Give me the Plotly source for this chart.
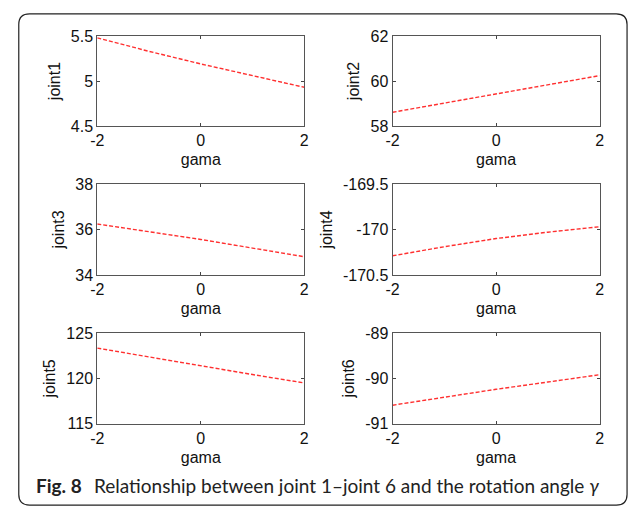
import plotly.graph_objects as go

gama = [-2, -1, 0, 1, 2]
joint1 = [5.48, 5.33, 5.19, 5.06, 4.93]
joint2 = [58.61, 59.01, 59.41, 59.82, 60.24]
joint3 = [36.24, 35.90, 35.56, 35.18, 34.80]
joint4 = [-170.29, -170.19, -170.10, -170.03, -169.97]
joint5 = [123.33, 122.35, 121.38, 120.42, 119.50]
joint6 = [-90.59, -90.41, -90.24, -90.08, -89.92]

series = [joint1, joint2, joint3, joint4, joint5, joint6]
names = ["joint1", "joint2", "joint3", "joint4", "joint5", "joint6"]
yranges = [[4.5, 5.5], [58, 62], [34, 38], [-170.5, -169.5], [115, 125], [-91, -89]]
yticks = [[4.5, 5, 5.5], [58, 60, 62], [34, 36, 38], [-170.5, -170, -169.5], [115, 120, 125], [-91, -90, -89]]
ytick_text = [["4.5", "5", "5.5"], ["58", "60", "62"], ["34", "36", "38"],
              ["-170.5", "-170", "-169.5"], ["115", "120", "125"], ["-91", "-90", "-89"]]
xticks = [-2, 0, 2]
xtitle = "gama"

W, H = 635, 516
col_px = [(92, 303), (393, 604)]
row_px = [(29, 122), (182, 276), (336, 430)]

fig = go.Figure()
tickfont = dict(family="Liberation Sans, Arial", size=16, color="#111")
titlefont = dict(family="Liberation Sans, Arial", size=16, color="#111")

for i in range(6):
    r, c = divmod(i, 2)
    ax = "" if i == 0 else str(i + 1)
    fig.add_trace(go.Scatter(x=gama, y=series[i], mode="lines",
                             line=dict(color="#ff3030", width=1.4, dash="4px,2px"),
                             xaxis="x" + ax, yaxis="y" + ax, showlegend=False))
    x0, x1 = col_px[c]
    t, b = row_px[r]
    fig.layout["xaxis" + ax] = dict(
        domain=[x0 / W, x1 / W], anchor="y" + ax, range=[-2, 2],
        tickvals=xticks, ticktext=[str(v) for v in xticks],
        ticks="inside", ticklen=3, tickcolor="#444", mirror="ticks",
        showline=True, linecolor="#555", linewidth=1, showgrid=False, zeroline=False,
        tickfont=tickfont, title=dict(text=xtitle, font=titlefont, standoff=5),
    )
    fig.layout["yaxis" + ax] = dict(
        domain=[1 - b / H, 1 - t / H], anchor="x" + ax, range=yranges[i],
        tickvals=yticks[i], ticktext=ytick_text[i],
        ticks="inside", ticklen=3, tickcolor="#444", mirror="ticks",
        showline=True, linecolor="#555", linewidth=1, showgrid=False, zeroline=False,
        tickfont=tickfont, title=dict(text=names[i], font=titlefont, standoff=6),
    )

# rounded frame
fx0, fx1, fy0, fy1 = 12 / W, 632 / W, 1 - 514 / H, 1 - 6 / H
rx, ry = 11 / W, 11 / H
path = (f"M {fx0+rx},{fy1} L {fx1-rx},{fy1} Q {fx1},{fy1} {fx1},{fy1-ry} "
        f"L {fx1},{fy0+ry} Q {fx1},{fy0} {fx1-rx},{fy0} L {fx0+rx},{fy0} "
        f"Q {fx0},{fy0} {fx0},{fy0+ry} L {fx0},{fy1-ry} Q {fx0},{fy1} {fx0+rx},{fy1} Z")
fig.add_shape(type="path", path=path, xref="paper", yref="paper",
              line=dict(color="#222", width=1.2))

capfont = dict(family="Lato, Open Sans", size=19, color="#222")
fig.add_annotation(text="<b>Fig. 8</b>", x=29 / W, y=1 - 494 / H, xref="paper", yref="paper",
                   xanchor="left", yanchor="middle", showarrow=False, font=capfont, borderpad=0)
fig.add_annotation(text="Relationship between joint 1–joint 6 and the rotation angle <i>γ</i>",
                   x=88 / W, y=1 - 494 / H, xref="paper", yref="paper",
                   xanchor="left", yanchor="middle", showarrow=False, font=capfont, borderpad=0)

fig.update_layout(width=W, height=H, margin=dict(l=0, r=0, t=0, b=0),
                  paper_bgcolor="white", plot_bgcolor="white")
fig.write_html("out.html")
